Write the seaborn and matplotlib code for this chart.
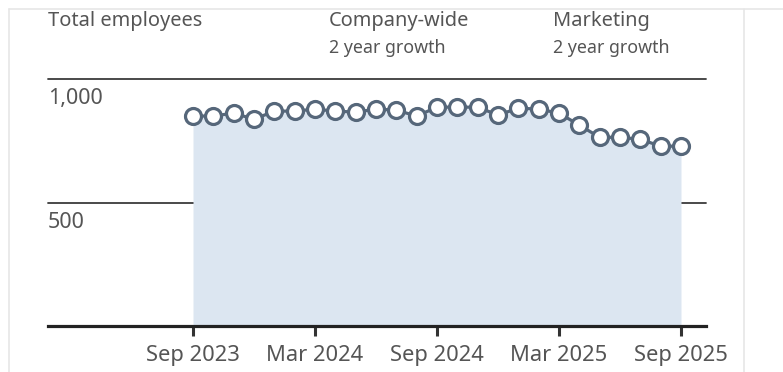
import matplotlib
matplotlib.use("Agg")
import matplotlib.pyplot as plt
import seaborn as sns
import pandas as pd
from matplotlib.lines import Line2D

# monthly headcount, Sep 2023 .. Sep 2025
months = pd.date_range("2023-09-01", "2025-09-01", freq="MS")
employees = [850, 850, 862, 837, 870, 870, 878, 870, 866, 878, 874, 850,
             886, 886, 886, 854, 882, 878, 862, 813, 764, 764, 756, 728, 728]
tick_idx = [0, 6, 12, 18, 24]
tick_labels = ["Sep 2023", "Mar 2024", "Sep 2024", "Mar 2025", "Sep 2025"]
y_ticks = [500, 1000]
y_tick_labels = ["500", "1,000"]

df = pd.DataFrame({"idx": range(len(months)), "employees": employees})

sns.set_theme(style="white")
plt.rcParams["font.family"] = ["Noto Sans", "DejaVu Sans"]

fig = plt.figure(figsize=(7.83, 3.72), dpi=100)
ax = fig.add_axes([48 / 783, (372 - 326) / 372, (706 - 48) / 783, (326 - 79) / 372])

line_col = "#56677a"
fill_col = "#dce6f1"
text_col = "#555555"

# gridlines (behind the area)
for v in y_ticks:
    ax.axhline(v, color="#3a3a3a", lw=1.3, zorder=1, clip_on=False)

ax.fill_between(df["idx"], 0, df["employees"], color=fill_col, lw=0, zorder=2)
sns.lineplot(data=df, x="idx", y="employees", ax=ax, color=line_col, lw=2.3,
             marker="o", markersize=11.5, markerfacecolor="white",
             markeredgecolor=line_col, markeredgewidth=2.3, zorder=3, clip_on=False)

ax.set_xlim((48 - 193) / 20.333, (706 - 193) / 20.333)
ax.set_ylim(0, 1000)
for s in ["top", "right", "left"]:
    ax.spines[s].set_visible(False)
ax.spines["bottom"].set_color("#222222")
ax.spines["bottom"].set_linewidth(2.3)
ax.spines["bottom"].set_zorder(4)

ax.set_xticks(tick_idx)
ax.set_xticklabels(tick_labels, fontsize=15.8, color=text_col)
ax.tick_params(axis="x", length=7, width=2.2, color="#333333", pad=7, bottom=True)
ax.set_yticks([])
ax.set_xlabel("")
ax.set_ylabel("")

for v, lab in zip(y_ticks, y_tick_labels):
    ax.text(0, v - 38, lab, transform=ax.get_yaxis_transform(), ha="left", va="top",
            fontsize=15.5, color=text_col)

# header texts
fig.text(48 / 783, 1 - 21 / 372, "Total employees", fontsize=14.4, color=text_col, va="center")
fig.text(329 / 783, 1 - 21 / 372, "Company-wide", fontsize=14.4, color=text_col, va="center")
fig.text(553 / 783, 1 - 21 / 372, "Marketing", fontsize=14.4, color=text_col, va="center")
fig.text(329 / 783, 1 - 48 / 372, "2 year growth", fontsize=12.8, color=text_col, va="center")
fig.text(553 / 783, 1 - 48 / 372, "2 year growth", fontsize=12.8, color=text_col, va="center")

# card borders
border = "#e6e6e6"
fig.add_artist(Line2D([9 / 783, 1], [1 - 9 / 372] * 2, color=border, lw=1.2))
fig.add_artist(Line2D([9 / 783] * 2, [0, 1 - 9 / 372], color=border, lw=1.2))
fig.add_artist(Line2D([744 / 783] * 2, [0, 1 - 9 / 372], color=border, lw=1.2))

fig.savefig("out.png", dpi=100)
